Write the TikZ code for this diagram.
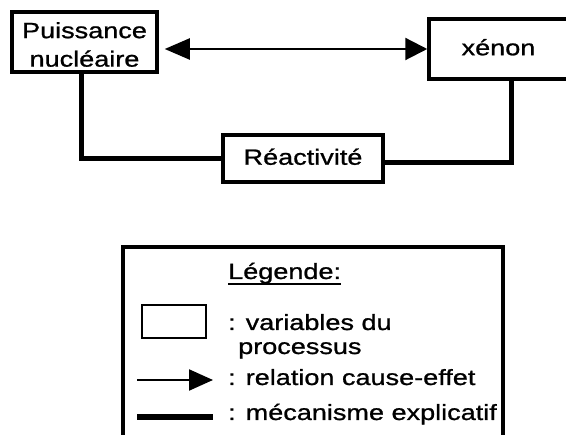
\documentclass[tikz,border=0pt]{standalone}
\usepackage{fontspec}
\setmainfont{Liberation Sans}[FakeStretch=1.23,FakeBold=1]
\usetikzlibrary{arrows.meta}
\begin{document}
\begin{tikzpicture}[x=1pt,y=-1pt,
  txt/.style={font=\fontsize{22}{28.5}\selectfont, inner sep=0pt},
  varbox/.style={draw, line width=3.5pt, inner sep=0pt, txt},
  tdim/.style={text height=16pt, text depth=3.5pt},
  mech/.style={line width=5pt},
  cause/.style={line width=2.2pt, -{Triangle[length=24pt,width=21pt]}},
  causeboth/.style={line width=2.2pt, {Triangle[length=25pt,width=21pt]}-{Triangle[length=22pt,width=22pt]}},
  legtxt/.style={txt, anchor=base west}
]
\clip (0,0) rectangle (566,435);
% main variables
\node[varbox, minimum width=145pt, minimum height=60pt, align=center] (pn) at (84.5,42)
  {\rule{0pt}{21pt}Puissance\\nucléaire};
\node[varbox, tdim, minimum width=139pt, minimum height=60pt] (xe) at (498.5,49) {xénon};
\node[varbox, tdim, minimum width=160pt, minimum height=47pt] (re) at (303,158.5) {Réactivité};
% connectors
\draw[causeboth, shorten <=6pt] (pn.east |- xe.west) -- (xe.west);
\draw[mech] ([xshift=-3.5pt]pn.south) |- (re.west);
\draw[mech] ([xshift=12.5pt]xe.south) |- ([yshift=-4.5pt]re.east);
% legend
\node[draw, line width=3.5pt, minimum width=380pt, minimum height=213pt, inner sep=0pt] (lg) at (313,353.5) {};
\node[legtxt] (lgt) at (228,279) {Légende:};
\draw[line width=2.2pt] ([yshift=-5pt]lgt.base west) -- ([yshift=-5pt]lgt.base east);
\node[draw, line width=2.8pt, minimum width=64pt, minimum height=33pt, inner sep=0pt] (lb) at (174,321.5) {};
\node[legtxt] (lv) at (228,330) {: variables du};
\node[legtxt] (lp) at (238,354) {processus};
\coordinate (la1) at (137,380);
\coordinate (la2) at (213,380);
\draw[cause] (la1) -- (la2);
\node[legtxt] (lr) at (228,385) {: relation cause-effet};
\coordinate (lm1) at (137,417);
\coordinate (lm2) at (213,417);
\draw[line width=5.5pt] (lm1) -- (lm2);
\node[legtxt] (lmt) at (228,420) {:\hspace{10pt}mécanisme explicatif};
\end{tikzpicture}
\end{document}
